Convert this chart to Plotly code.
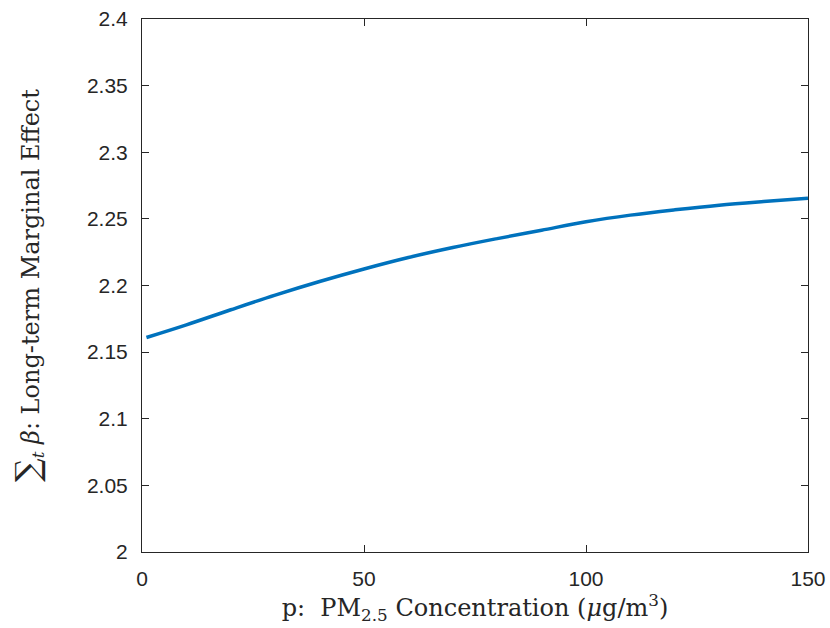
import plotly.graph_objects as go

x_vals = [1, 10, 20, 30, 40, 50, 60, 70, 80, 90, 100, 110, 120, 130, 140, 150]
y_vals = [2.161, 2.1705, 2.1818, 2.1928, 2.2030, 2.2124, 2.2210, 2.2285, 2.2352, 2.2415, 2.2478, 2.2528, 2.2568, 2.2603, 2.2630, 2.2654]
x_ticks = [0, 50, 100, 150]
y_ticks = [2, 2.05, 2.1, 2.15, 2.2, 2.25, 2.3, 2.35, 2.4]
y_tick_text = ["2", "2.05", "2.1", "2.15", "2.2", "2.25", "2.3", "2.35", "2.4"]

fig = go.Figure()
fig.add_trace(go.Scatter(x=x_vals, y=y_vals, mode="lines",
                         line=dict(color="#0072BD", width=3.5, shape="spline"),
                         showlegend=False, hoverinfo="skip"))

axis_common = dict(showgrid=False, zeroline=False, showline=True, linecolor="#262626",
                   linewidth=1, mirror="ticks", ticks="inside", ticklen=7,
                   tickcolor="#262626", tickwidth=1, automargin=False,
                   tickfont=dict(family="Liberation Sans, Arial", size=21, color="#262626"))

title_font = dict(family="DejaVu Serif, Liberation Serif", size=24, color="#262626")

fig.update_layout(
    width=830, height=628,
    margin=dict(l=142, r=22, t=19, b=76),
    plot_bgcolor="white", paper_bgcolor="white",
    xaxis=dict(range=[0, 150], tickvals=x_ticks, ticklabelstandoff=8,
               title=dict(text="p:  PM<sub>2.5</sub> Concentration (<i>μ</i>g/m<sup>3</sup>)",
                          font=title_font, standoff=7),
               **axis_common),
    yaxis=dict(range=[2, 2.4], tickvals=y_ticks, ticktext=y_tick_text, ticklabelstandoff=9,
               title=dict(text="<span style='font-size:33px'>∑</span><sub><i>t</i></sub> <i>β</i>: Long-term Marginal Effect",
                          font=title_font, standoff=40),
               **axis_common),
)

fig.write_html("out.html")
